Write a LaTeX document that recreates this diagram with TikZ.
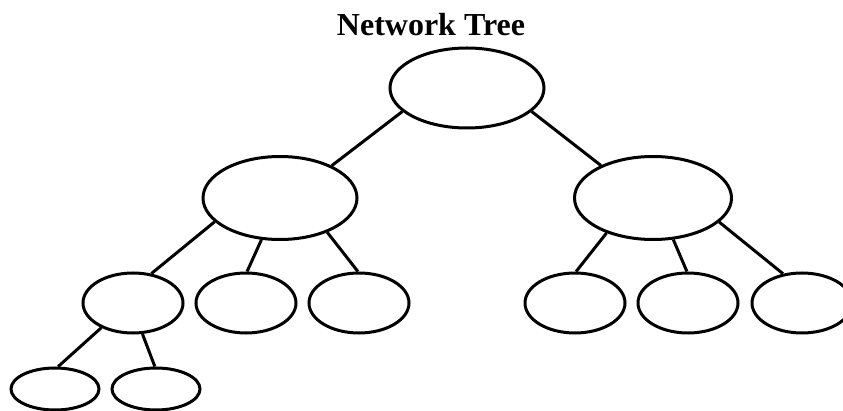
\documentclass[tikz,border=0pt]{standalone}
\usepackage{fontspec}
\setmainfont{Liberation Serif}
\usetikzlibrary{shapes.geometric}

\begin{document}
\begin{tikzpicture}[x=1pt, y=-1pt, line width=3pt]
	\useasboundingbox (0,0) rectangle (843,411);
	\node[anchor=base, font=\bfseries\fontsize{32}{38}\selectfont] (title) at (431,36) {Network Tree};
	%
	\def\nodes {root/467/88/154/80, l/280/198/154/83, r/653/198/157/83, ll/133/303/100/60, lm/246/303/100/60, lr/359/303/100/60, rl/575/303/100/60, rm/688/303/100/60, rr/802/303/100/60, lll/55/389/88/42, llr/156/389/88/42};
	% draw the ellipses of the tree
	\foreach \name\x\y\w\h in \nodes{
		\node[draw, ellipse, inner sep=0pt, minimum width=\w pt, minimum height=\h pt] (\name) at (\x,\y) {};
	}
	% draw the edges, from anchor angle to anchor angle
	\def\edges {root/200/l/32, root/340/r/148, l/200/ll/58, l/246/lm/88, l/324/lr/92, r/217/rl/88, r/296/rm/92, r/340/rr/123, ll/218/lll/82, ll/287/llr/93};
	\foreach \s\sa\t\ta in \edges{
		\draw (\s.\sa) -- (\t.\ta);
	}
\end{tikzpicture}
\end{document}
